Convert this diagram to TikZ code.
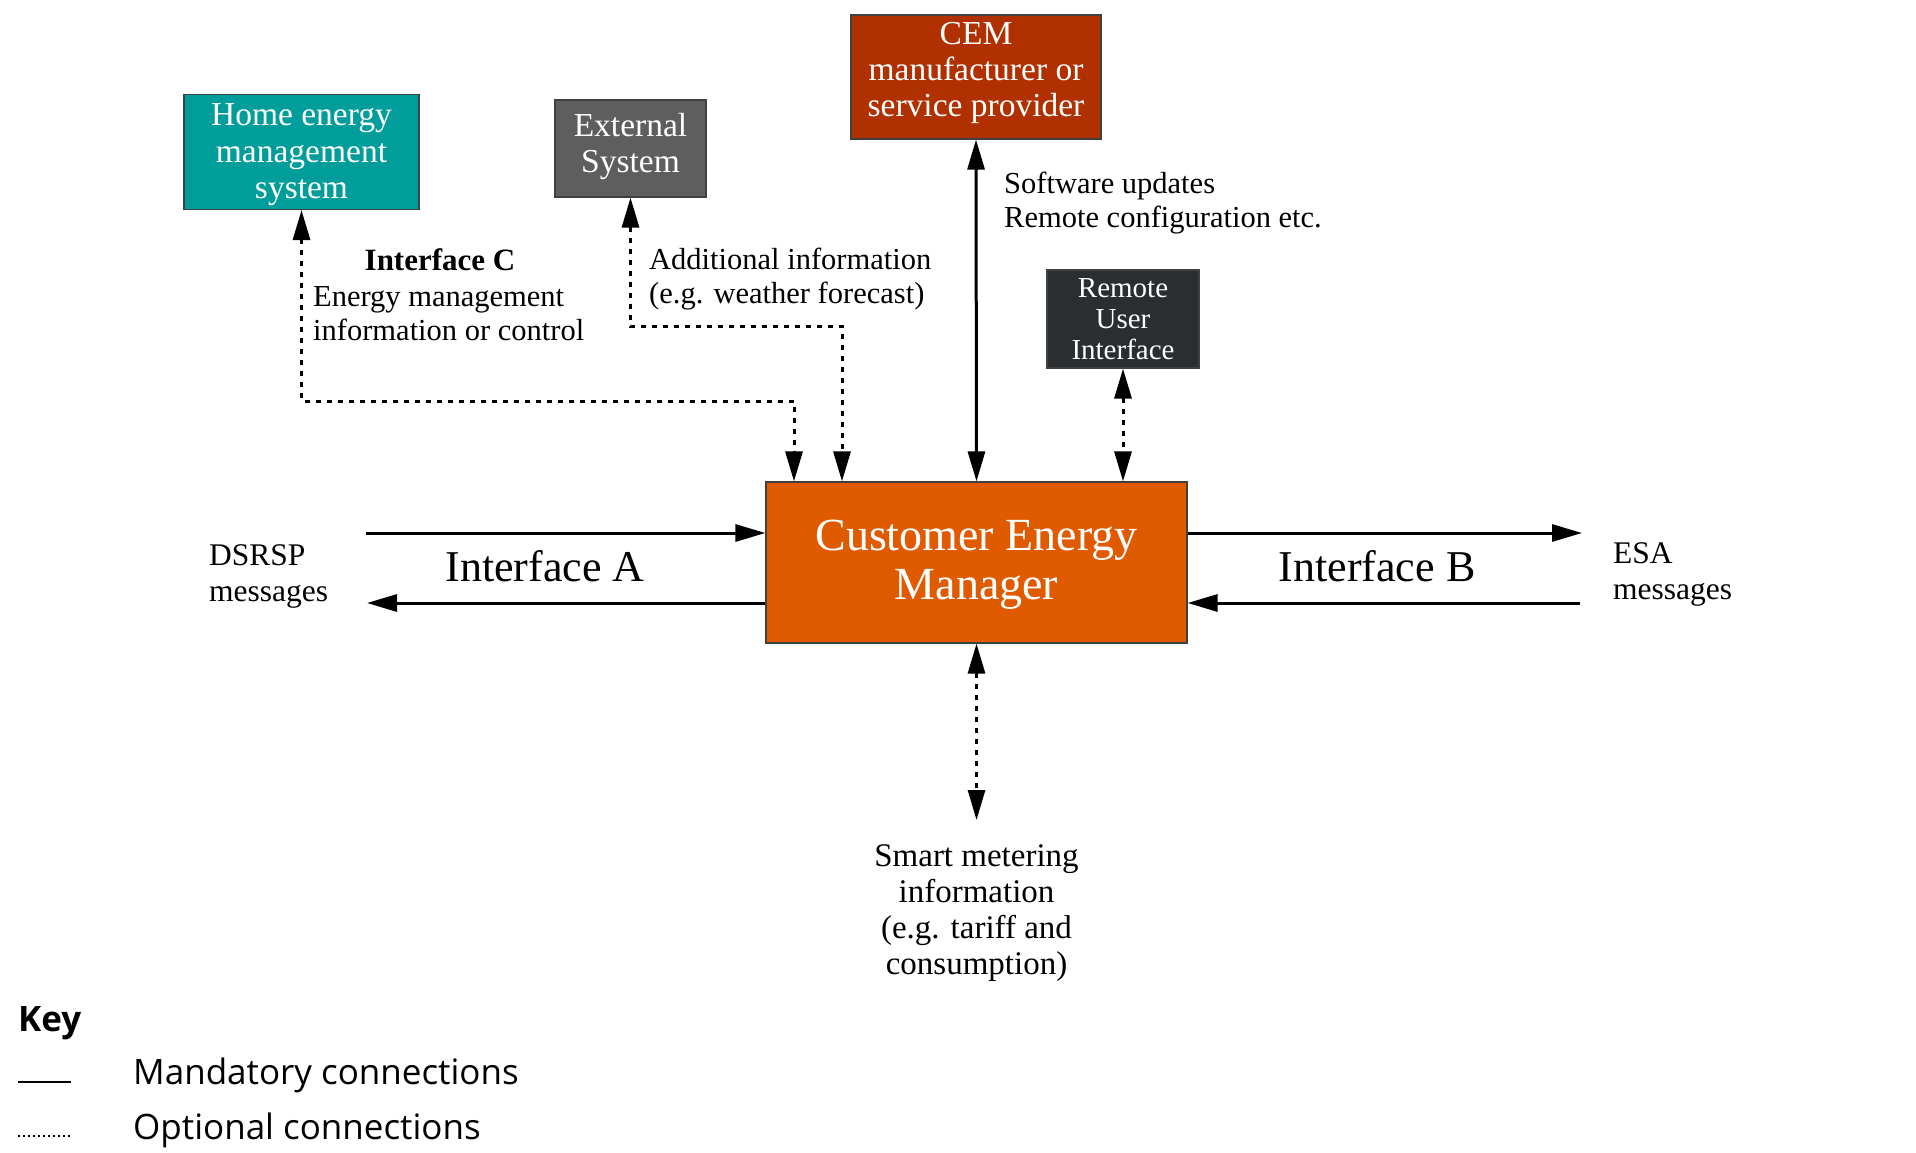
\documentclass[tikz,border=0pt]{standalone}
\usepackage{fontspec}
\setmainfont{Liberation Serif}
\newfontfamily\keyfont{Open Sans}
\usetikzlibrary{arrows.meta}
\definecolor{hemscol}{RGB}{0,157,154}
\definecolor{extcol}{RGB}{94,94,94}
\definecolor{cemmcol}{RGB}{176,48,0}
\definecolor{ruicol}{RGB}{42,46,49}
\definecolor{cemcol}{RGB}{224,90,0}
\tikzset{
  boxbase/.style={draw=black!75, line width=1.2pt, inner sep=0pt},
  boxtext/.style={text=white, inner sep=0pt, align=center, font=\fontsize{33.5}{36}\selectfont},
  conn/.style={line width=3pt, >={Triangle[length=30pt,width=17pt]}},
  optline/.style={conn, dash pattern=on 5pt off 6pt},
  lbl/.style={inner sep=0pt, align=left, font=\fontsize{30.5}{34}\selectfont},
  keytxt/.style={inner sep=0pt, anchor=west, font=\keyfont\fontsize{35}{40}\selectfont}
}
\begin{document}
\begin{tikzpicture}[x=1pt,y=-1pt]
\useasboundingbox (0,0) rectangle (1916,1153);

% boxes
\node[boxbase, fill=hemscol, minimum width=235pt, minimum height=115pt] (hems) at (301.5,152) {};
\node[boxtext, font=\fontsize{33.5}{36.5}\selectfont] (hemst) at (301.5,155) {Home energy\\management\\system};
\node[boxbase, fill=extcol, minimum width=151pt, minimum height=97pt] (ext) at (630.5,148.5) {};
\node[boxtext] (extt) at (630.5,146.5) {External\\System};
\node[boxbase, fill=cemmcol, minimum width=250pt, minimum height=124pt] (cemm) at (976,77) {};
\node[boxtext] (cemmt) at (976,73) {CEM\\manufacturer or\\service provider};
\node[boxbase, fill=ruicol, minimum width=152pt, minimum height=98pt] (rui) at (1123,319) {};
\node[boxtext, font=\fontsize{29}{31}\selectfont] (ruit) at (1123,319) {Remote\\User\\Interface};
\node[boxbase, fill=cemcol, minimum width=421pt, minimum height=161pt] (cem) at (976.5,562.5) {};
\node[boxtext, font=\fontsize{46}{49}\selectfont] (cemt) at (976.5,565) {Customer Energy\\Manager};

% connectors
\coordinate (c1) at (794,401);
\coordinate (c2) at (842,326);
\draw[optline,<->] (hems.south) |- (c1) -- (c1 |- cem.north);
\draw[optline,<->] (ext.south) |- (c2) -- (c2 |- cem.north);
\draw[conn,<->] (cemm.south) -- (cem.north);
\draw[optline,<->] (rui.south) -- (rui.south |- cem.north);
\coordinate (sm) at (976.5,820);
\draw[optline,<->] (cem.south) -- (sm);

\coordinate (a1) at (366,533);
\coordinate (a2) at (367,603);
\coordinate (b1) at (1582,533);
\coordinate (b2) at (1580,603);
\draw[conn,->] (a1) -- (a1 -| cem.west);
\draw[conn,->] (a2 -| cem.west) -- (a2);
\draw[conn,->] (b1 -| cem.east) -- (b1);
\draw[conn,->] (b2) -- (b2 -| cem.east);

% labels
\node[lbl, font=\bfseries\fontsize{31}{34}\selectfont] (ifc) at (440,260) {Interface C};
\node[lbl, anchor=west] (emi) at (313,314) {Energy management\\information or control};
\node[lbl, anchor=west] (addi) at (649,279.5) {Additional information\\(e.g. weather forecast)};
\node[lbl, anchor=west] (swu) at (1004,203) {Software updates\\Remote configuration etc.};
\node[lbl, anchor=west, font=\fontsize{31.5}{36}\selectfont] (dsrsp) at (209,576) {DSRSP\\messages};
\node[lbl, anchor=west, font=\fontsize{31.5}{36}\selectfont] (esa) at (1613,574) {ESA\\messages};
\node[lbl, font=\fontsize{44}{48}\selectfont] (ifa) at (545,566) {Interface A};
\node[lbl, font=\fontsize{44}{48}\selectfont] (ifb) at (1377,566) {Interface B};
\node[lbl, align=center, font=\fontsize{33}{36}\selectfont] (smi) at (976.5,913) {Smart metering\\information\\(e.g. tariff and\\consumption)};

% key
\node[keytxt, font=\keyfont\bfseries\fontsize{35}{40}\selectfont] (key) at (18,1023) {Key};
\coordinate (k1a) at (18,1082);
\coordinate (k1b) at (71,1082);
\coordinate (k2a) at (18,1136);
\coordinate (k2b) at (71,1136);
\draw[line width=1.3pt] (k1a) -- (k1b);
\draw[line width=1.3pt, dash pattern=on 2pt off 3pt] (k2a) -- (k2b);
\node[keytxt] (mand) at (133,1075) {Mandatory connections};
\node[keytxt] (optc) at (133,1130) {Optional connections};
\end{tikzpicture}
\end{document}
